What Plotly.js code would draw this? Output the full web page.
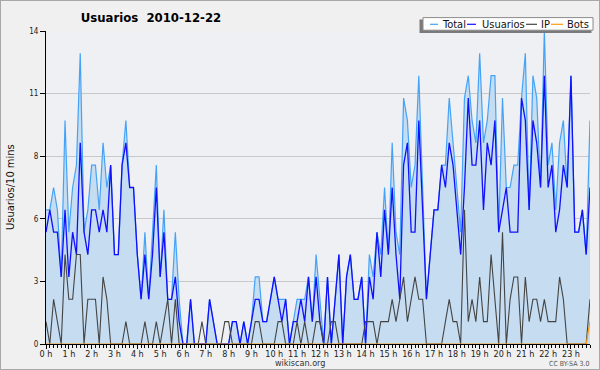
<!DOCTYPE html>
<html><head><meta charset="utf-8">
<script src="https://cdn.plot.ly/plotly-3.0.1.min.js"></script>
<style>
html,body{margin:0;padding:0;background:#f0f0f0}
#wrap{position:relative;width:600px;height:370px}
#chart{width:600px;height:370px}
#frame{position:absolute;left:0;top:0;width:600px;height:370px;box-sizing:border-box;border:1px solid #a8a8a8;pointer-events:none}
</style>
</head><body>
<div id="wrap"><div id="chart"></div><div id="frame"></div></div>
<script>
// 10-minute slots over the day (index 0 = 00:00 ... 143 = 23:50)
const tickSlots = [0,6,12,18,24,30,36,42,48,54,60,66,72,78,84,90,96,102,108,114,120,126,132,138];
const tickLabels = ['0 h','1 h','2 h','3 h','4 h','5 h','6 h','7 h','8 h','9 h','10 h','11 h','12 h','13 h','14 h','15 h','16 h','17 h','18 h','19 h','20 h','21 h','22 h','23 h'];
const yTickVals = [0,2.8,5.6,8.4,11.2,14];
const yTickText = ['0','3','6','8','11','14'];
const seriesNames = ['Total','Usuarios','IP','Bots'];
const seriesColors = ['#45a3f7','#1010ff','#444444','#ff9a10'];

const total = [6,6,7,6,3,10,5,7,8,13, 5,6,8,8,6,9,7,8,4,4, 8,10,7,7,4,2,5,2,5,8,
  3,6,2,2,5,2,0,0,2,0, 0,0,0,2,1,0,0,0,0,1, 1,0,1,0,1,3,3,1,1,2, 3,2,2,2,0,1,2,2,2,3,
  1,4,2,0,3,0,2,4,0,3, 4,2,2,3,0,4,3,5,4,7, 4,9,5,4,11,10,7,8,12,7, 2,4,6,6,8,8,11,9,7,5,
  11,12,10,9,13,9,10,12,12,5, 11,7,7,8,8,11,13,6,12,11, 7,14,8,9,6,9,10,7,12,5, 5,6,4,10];
const usuarios = [5,6,5,5,3,6,3,5,4,9, 5,4,6,6,5,6,5,8,4,4, 8,9,7,7,4,2,4,2,4,7,
  3,5,2,2,3,1,0,0,2,0, 0,0,0,2,1,0,0,0,0,1, 1,0,1,0,1,2,2,1,1,2, 3,2,1,2,0,1,1,2,1,3,
  1,3,1,0,3,0,2,4,0,3, 4,2,2,3,0,3,2,5,3,6, 4,7,4,2,8,9,5,5,10,6, 2,4,6,6,8,7,9,8,6,4,
  7,11,8,8,10,6,9,8,10,5, 6,7,5,5,5,11,10,6,10,9, 7,12,7,8,5,6,8,7,12,5, 5,6,4,7];
const ip = [1,0,2,1,0,4,2,2,4,4, 0,2,2,2,0,3,2,0,0,0, 0,1,0,0,0,0,1,0,0,1,
  0,1,2,0,2,0,0,0,0,0, 0,1,0,0,0,0,0,1,1,0, 0,0,0,0,0,1,1,0,0,0, 0,1,1,0,0,0,1,0,1,0,
  0,1,1,0,0,1,1,0,0,0, 0,0,0,0,1,1,1,0,1,1, 1,2,1,2,3,1,2,3,2,2, 0,0,0,0,0,1,2,1,1,0,
  6,1,2,1,3,1,1,4,2,0, 5,0,2,3,3,0,3,1,2,2, 1,2,1,1,1,3,2,0,0,0, 0,0,0,2];
const bots = [0,0,0,0,0,0,0,0,0,0, 0,0,0,0,0,0,0,0,0,0, 0,0,0,0,0,0,0,0,0,0,
  0,0,0,0,0,0,0,0,0,0, 0,0,0,0,0,0,0,0,0,0, 0,0,0,0,0,0,0,0,0,0, 0,0,0,0,0,0,0,0,0,0,
  0,0,0,0,0,0,0,0,0,0, 0,0,0,0,0,0,0,0,0,0, 0,0,0,0,0,0,0,0,0,0, 0,0,0,0,0,0,0,0,0,0,
  0,0,0,0,0,0,0,0,0,0, 0,0,0,0,0,0,0,0,0,0, 0,0,0,0,0,0,0,0,0,0, 0,0,0,1];

const slots = total.map((_, i) => i);

const M = {l:46, r:10, t:31, b:26};
const W = 600, H = 370;
const PW = W - M.l - M.r, PH = H - M.t - M.b;
const X = px => (px - M.l) / PW;
const Y = py => (H - M.b - py) / PH;

const font = 'DejaVu Sans Condensed, DejaVu Sans, sans-serif';

const traces = [
  {x: slots, y: total, type:'scatter', mode:'lines', name:seriesNames[0], fill:'tozeroy', fillcolor:'#c5dcf1', line:{color:seriesColors[0], width:1.2}},
  {x: slots, y: usuarios, type:'scatter', mode:'lines', name:seriesNames[1], line:{color:seriesColors[1], width:1.3}},
  {x: slots, y: ip, type:'scatter', mode:'lines', name:seriesNames[2], line:{color:seriesColors[2], width:1.1}},
  {x: slots, y: bots, type:'scatter', mode:'lines', name:seriesNames[3], line:{color:seriesColors[3], width:1.2}}
];

// custom compact legend
const legY = 24.3;
const legItems = [
  {sx0:430, sx1:438, tx:441},
  {sx0:467, sx1:476, tx:481},
  {sx0:526, sx1:537, tx:540},
  {sx0:551, sx1:563, tx:566}
];
const shapes = [
  {type:'rect', xref:'paper', yref:'paper', x0:X(419.5), x1:X(591.5), y0:Y(33), y1:Y(19.5), fillcolor:'#7a7a7a', line:{width:0}, layer:'above'},
  {type:'rect', xref:'paper', yref:'paper', x0:X(423), x1:X(593), y0:Y(30.2), y1:Y(17.6), fillcolor:'#ffffff', line:{color:'#8a8a8a', width:1}, layer:'above'}
];
const annotations = [];
legItems.forEach((it, k) => {
  shapes.push({type:'line', xref:'paper', yref:'paper', x0:X(it.sx0), x1:X(it.sx1), y0:Y(legY), y1:Y(legY), line:{color:seriesColors[k], width:1.2}, layer:'above'});
  annotations.push({xref:'paper', yref:'paper', x:X(it.tx), y:Y(legY), xanchor:'left', yanchor:'middle', text:seriesNames[k], showarrow:false, font:{family:font, size:11, color:'#111'}, borderpad:0});
});
annotations.push({xref:'paper', yref:'paper', x:X(10), y:Y(187), xanchor:'center', yanchor:'middle', textangle:-90, text:'Usuarios/10 mins', showarrow:false, font:{family:font, size:11, color:'#111'}});
annotations.push({xref:'paper', yref:'paper', x:X(300), y:Y(363), xanchor:'center', yanchor:'middle', text:'wikiscan.org', showarrow:false, font:{family:font, size:9, color:'#333'}, borderpad:0});
annotations.push({xref:'paper', yref:'paper', x:X(590), y:Y(363.5), xanchor:'right', yanchor:'middle', text:'CC BY-SA 3.0', showarrow:false, font:{family:font, size:7, color:'#555'}, borderpad:0});

const layout = {
  width: W, height: H,
  margin: M,
  paper_bgcolor:'#f0f0f0', plot_bgcolor:'#eef0f3',
  showlegend:false,
  title:{text:'Usuarios\u00a0\u00a02010-12-22', xref:'container', yref:'container', x:151/W, xanchor:'center', y:1-17/H, yanchor:'middle',
    font:{family:font, size:13, weight:'bold', color:'#000'}},
  xaxis:{range:[0,143], tickmode:'array', tickvals:tickSlots, ticktext:tickLabels, ticks:'outside', ticklen:4, tickwidth:1, tickcolor:'#000',
    ticklabelstandoff:-3,
    showline:true, linecolor:'#000', linewidth:1, showgrid:false, zeroline:false,
    tickfont:{family:font, size:9, color:'#222'},
    minor:{dtick:1, tick0:0, ticks:'outside', ticklen:3, tickwidth:1, tickcolor:'#000', showgrid:false}, fixedrange:true},
  yaxis:{range:[0,14], tickmode:'array', tickvals:yTickVals, ticktext:yTickText, ticks:'outside', ticklen:5, tickwidth:1, tickcolor:'#000',
    showline:true, linecolor:'#000', linewidth:1, showgrid:true, gridcolor:'#c8c8c8', gridwidth:1, zeroline:false,
    tickfont:{family:font, size:8, color:'#222'}, fixedrange:true},
  shapes, annotations
};

Plotly.newPlot('chart', traces, layout, {displayModeBar:false, staticPlot:true});
</script>
</body></html>
